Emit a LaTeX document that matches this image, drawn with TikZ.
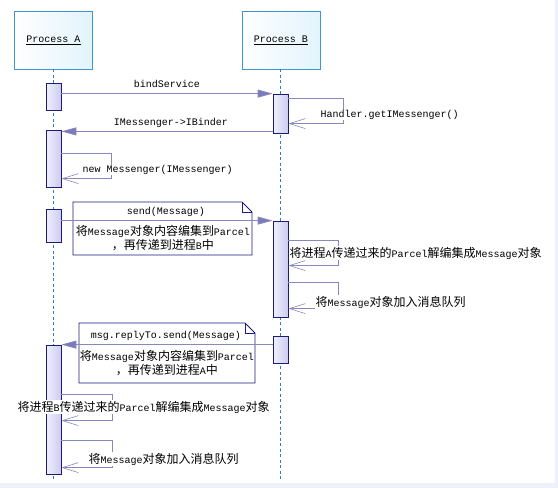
\documentclass[tikz,border=0pt]{standalone}
\usepackage{fontspec}
\setmainfont{Liberation Mono}
\newfontfamily\cjk{Noto Sans CJK SC}
\usetikzlibrary{arrows.meta,calc}
\newcommand\zh[1]{{\fontsize{12pt}{12pt}\cjk #1}}
\definecolor{bgblue}{RGB}{236,241,250}
\definecolor{procline}{RGB}{60,150,210}
\definecolor{procfill}{RGB}{226,244,252}
\definecolor{lifecol}{RGB}{47,125,192}
\definecolor{msgcol}{RGB}{136,136,188}
\definecolor{headcol}{RGB}{122,122,190}
\definecolor{actline}{RGB}{28,28,112}
\definecolor{actfill}{RGB}{204,204,242}
\definecolor{notecol}{RGB}{28,28,128}
\begin{document}
\begin{tikzpicture}[x=1pt,y=-1pt,
  proc/.style={draw=procline, line width=0.8pt, left color=white, right color=procfill,
    minimum width=78pt, minimum height=58pt, inner sep=0pt, font=\fontsize{10pt}{12pt}\selectfont},
  life/.style={draw=lifecol, line width=0.7pt, dash pattern=on 3pt off 2.5pt},
  act/.style={draw=actline, line width=0.8pt, left color=white!70!actfill, right color=actfill,
    minimum width=15pt, inner sep=0pt},
  call/.style={draw=msgcol, line width=0.8pt, -{Triangle[length=15pt,width=8pt,fill=headcol]}},
  selfmsg/.style={draw=msgcol, line width=0.8pt, -{Straight Barb[length=16pt,width=10pt,line width=0.6pt]}},
  lbl/.style={font=\fontsize{10pt}{12pt}\selectfont, inner sep=0.5pt, text=black},
  wlbl/.style={lbl, fill=white, anchor=west},
  note/.style={draw=notecol, line width=0.8pt},
  notetext/.style={lbl, align=center}
]
\useasboundingbox (0,0) rectangle (558,488);
\fill[bgblue] (0,0) rectangle (558,488);
\fill[white] (0,0) rectangle (555,483);

% lifeline heads
\node[proc] (pA) at (53.5,40) {\underline{Process A}};
\node[proc] (pB) at (281,40) {\underline{Process B}};
\coordinate (endA) at (53.5,481);
\coordinate (endB) at (280.5,481);
\draw[life] (pA.south) -- (endA);
\draw[life] (pB.south -| endB) -- (endB);

% activations
\node[act, minimum height=27pt] (a1) at (53.5,96.5) {};
\node[act, minimum height=57pt] (a2) at (53.5,158.5) {};
\node[act, minimum height=33pt] (a3) at (53.5,225.5) {};
\node[act, minimum height=129pt] (a4) at (53.5,409.5) {};
\node[act, minimum height=39pt] (b1) at (280.5,113.5) {};
\node[act, minimum height=96pt] (b2) at (280.5,269) {};
\node[act, minimum height=27pt] (b3) at (280.5,349.5) {};

% bindService
\draw[call] (a1.east |- b1.north) -- (b1.north west);
\node[lbl] (lbind) at (167,84) {bindService};

% Handler.getIMessenger()
\draw[selfmsg] ($(b1.north east)+(0,5)$) -- ++(55,0) -- ++(0,25) -- ($(b1.north east)+(0,30)$);
\node[wlbl] (lhandler) at (320,115) {Handler.getIMessenger()};

% IMessenger->IBinder
\coordinate (r1) at ($(b1.south west)+(0,-2)$);
\draw[call] (r1) -- (a2.east |- r1);
\node[lbl] (libinder) at (171,123) {IMessenger->IBinder};

% new Messenger
\draw[selfmsg] ($(a2.north east)+(0,24)$) -- ++(50,0) -- ++(0,25) -- ($(a2.north east)+(0,49)$);
\node[wlbl] (lnew) at (82,170) {new Messenger(IMessenger)};

% note 1
\draw[note] (73,202) -- (242,202) -- (252,212) -- (252,255) -- (73,255) -- cycle;
\draw[note] (242,202) -- (242,212) -- (252,212);
\node[lbl] (lsend) at (166,212) {send(Message)};
\node[notetext] (nsend) at (163,238) {\zh{将}Message\zh{对象内容编集到}Parcel\\\zh{，再传递到进程}B\zh{中}};
\draw[call] (a3.east |- b2.north) -- (b2.north west);

% B processing
\draw[selfmsg] ($(b2.north east)+(0,20)$) -- ++(50,0) -- ++(0,25) -- ($(b2.north east)+(0,45)$);
\node[wlbl] (lunpackA) at (289,253) {\zh{将进程}A\zh{传递过来的}Parcel\zh{解编集成}Message\zh{对象}};
\draw[selfmsg] ($(b2.north east)+(0,62)$) -- ++(50,0) -- ++(0,26) -- ($(b2.north east)+(0,88)$);
\node[wlbl] (lqueueB) at (315,302) {\zh{将}Message\zh{对象加入消息队列}};

% note 2
\draw[note] (79,323) -- (245,323) -- (255,333) -- (255,383) -- (79,383) -- cycle;
\draw[note] (245,323) -- (245,333) -- (255,333);
\node[lbl] (lreply) at (166,336) {msg.replyTo.send(Message)};
\node[notetext] (nreply) at (167,363) {\zh{将}Message\zh{对象内容编集到}Parcel\\\zh{，再传递到进程}A\zh{中}};
\draw[call] (b3.west |- a4.north) -- (a4.north east);

% A processing
\draw[selfmsg] ($(a4.north east)+(0,50)$) -- ++(51,0) -- ++(0,26) -- ($(a4.north east)+(0,76)$);
\node[wlbl] (lunpackB) at (17,407) {\zh{将进程}B\zh{传递过来的}Parcel\zh{解编集成}Message\zh{对象}};
\draw[selfmsg] ($(a4.north east)+(0,96)$) -- ++(51,0) -- ++(0,27) -- ($(a4.north east)+(0,123)$);
\node[wlbl] (lqueueA) at (88,459) {\zh{将}Message\zh{对象加入消息队列}};
\end{tikzpicture}
\end{document}
